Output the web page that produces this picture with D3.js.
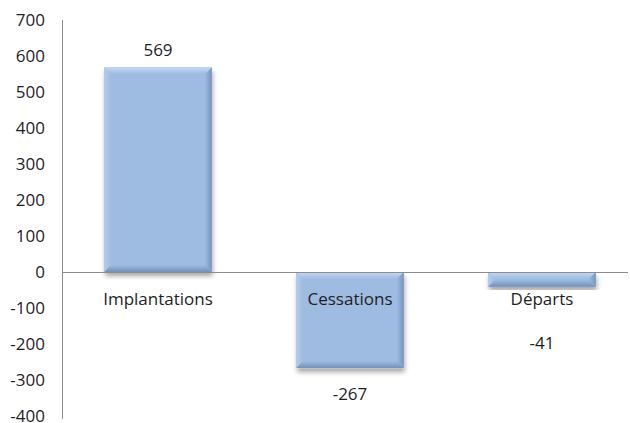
<!DOCTYPE html>
<html>
<head>
<meta charset="utf-8">
<script src="https://cdn.jsdelivr.net/npm/d3@7"></script>
<style>
	body { margin: 0; background: #fff; }
	text { font-family: "Open Sans", "Noto Sans", sans-serif; fill: #1e1e1e; font-size: 17px; }
</style>
</head>
<body>
<div id="chart"></div>
<script>
const categories = ['Implantations', 'Cessations', 'Départs'];
const values = [569, -267, -41];
const tickValues = [700, 600, 500, 400, 300, 200, 100, 0, -100, -200, -300, -400];

const width = 630, height = 423;
const barColour = '#9ebbe2';

const svg = d3.select('#chart').append('svg')
	.attr('width', width)
	.attr('height', height);

// scales
const y = d3.scaleLinear()
	.domain([-400, 700])
	.range([416, 20]);
const x = d3.scaleBand()
	.domain(categories)
	.range([62, 638])
	.paddingInner(0.44)
	.paddingOuter(0.22);

// shadow filter
const defs = svg.append('defs');
const shadow = defs.append('filter').attr('id', 'shadow')
	.attr('x', '-10%').attr('y', '-10%').attr('width', '130%').attr('height', '130%');
shadow.append('feGaussianBlur').attr('in', 'SourceAlpha').attr('stdDeviation', 2.5);
shadow.append('feOffset').attr('dx', 1).attr('dy', 4).attr('result', 'blur');
shadow.append('feComponentTransfer').append('feFuncA').attr('type', 'linear').attr('slope', 0.35);
const merge = shadow.append('feMerge');
merge.append('feMergeNode');
merge.append('feMergeNode').attr('in', 'SourceGraphic');

// soft gradients for the bevel edges
function grad(id, x2, y2, c0, c1) {
	const g = defs.append('linearGradient').attr('id', id)
		.attr('x1', 0).attr('y1', 0).attr('x2', x2).attr('y2', y2);
	g.append('stop').attr('offset', 0).attr('stop-color', c0);
	g.append('stop').attr('offset', 1).attr('stop-color', c1);
}
grad('g-top', 0, 1, '#c6d9f1', barColour);
grad('g-left', 1, 0, '#b5cbea', barColour);
grad('g-right', 1, 0, barColour, '#7993bb');
grad('g-bottom', 0, 1, barColour, '#7490b8');

// y axis labels
svg.append('g')
	.selectAll('text')
	.data(tickValues)
	.enter().append('text')
		.attr('x', 45)
		.attr('y', d => y(d))
		.attr('dy', '0.35em')
		.attr('text-anchor', 'end')
		.text(d => d);

// bars with bevel
const bev = 7;
const barData = categories.map((c, i) => ({cat: c, value: values[i]}));
const bars = svg.append('g').selectAll('g')
	.data(barData)
	.enter().append('g');

bars.append('rect')
	.attr('x', d => x(d.cat))
	.attr('y', d => Math.min(y(d.value), y(0)))
	.attr('width', x.bandwidth())
	.attr('height', d => Math.abs(y(d.value) - y(0)))
	.attr('fill', barColour)
	.attr('filter', 'url(#shadow)');

function bevel(d, side) {
	const x0 = x(d.cat), x1 = x0 + x.bandwidth();
	const y0 = Math.min(y(d.value), y(0)), y1 = Math.max(y(d.value), y(0));
	const b = Math.min(bev, (y1 - y0) / 2);
	if (side === 'top') return [[x0, y0], [x1, y0], [x1 - b, y0 + b], [x0 + b, y0 + b]];
	if (side === 'left') return [[x0, y0], [x0 + b, y0 + b], [x0 + b, y1 - b], [x0, y1]];
	if (side === 'right') return [[x1, y0], [x1, y1], [x1 - b, y1 - b], [x1 - b, y0 + b]];
	return [[x0, y1], [x0 + b, y1 - b], [x1 - b, y1 - b], [x1, y1]];
}
['left', 'right', 'top', 'bottom'].forEach(side => {
	bars.append('polygon')
		.attr('points', d => bevel(d, side).map(p => p.join(',')).join(' '))
		.attr('fill', `url(#g-${side})`);
});

// axis lines
svg.append('line')
	.attr('x1', 62.5).attr('x2', 62.5)
	.attr('y1', y(700)).attr('y2', y(-400) + 3)
	.attr('stroke', '#8c8c8c');
svg.append('line')
	.attr('x1', 62).attr('x2', 628)
	.attr('y1', y(0) + 0.5).attr('y2', y(0) + 0.5)
	.attr('stroke', '#8c8c8c');

// category labels
svg.append('g').selectAll('text')
	.data(categories)
	.enter().append('text')
		.attr('x', d => x(d) + x.bandwidth() / 2)
		.attr('y', y(0) + 27)
		.attr('dy', '0.35em')
		.attr('text-anchor', 'middle')
		.text(d => d);

// value labels
svg.append('g').selectAll('text')
	.data(barData)
	.enter().append('text')
		.attr('x', d => x(d.cat) + x.bandwidth() / 2)
		.attr('y', d => d.value >= 0 ? y(d.value) - 17 : Math.max(y(d.value), y(0) + 45) + 26)
		.attr('dy', '0.35em')
		.attr('text-anchor', 'middle')
		.text(d => d.value);
</script>
</body>
</html>
